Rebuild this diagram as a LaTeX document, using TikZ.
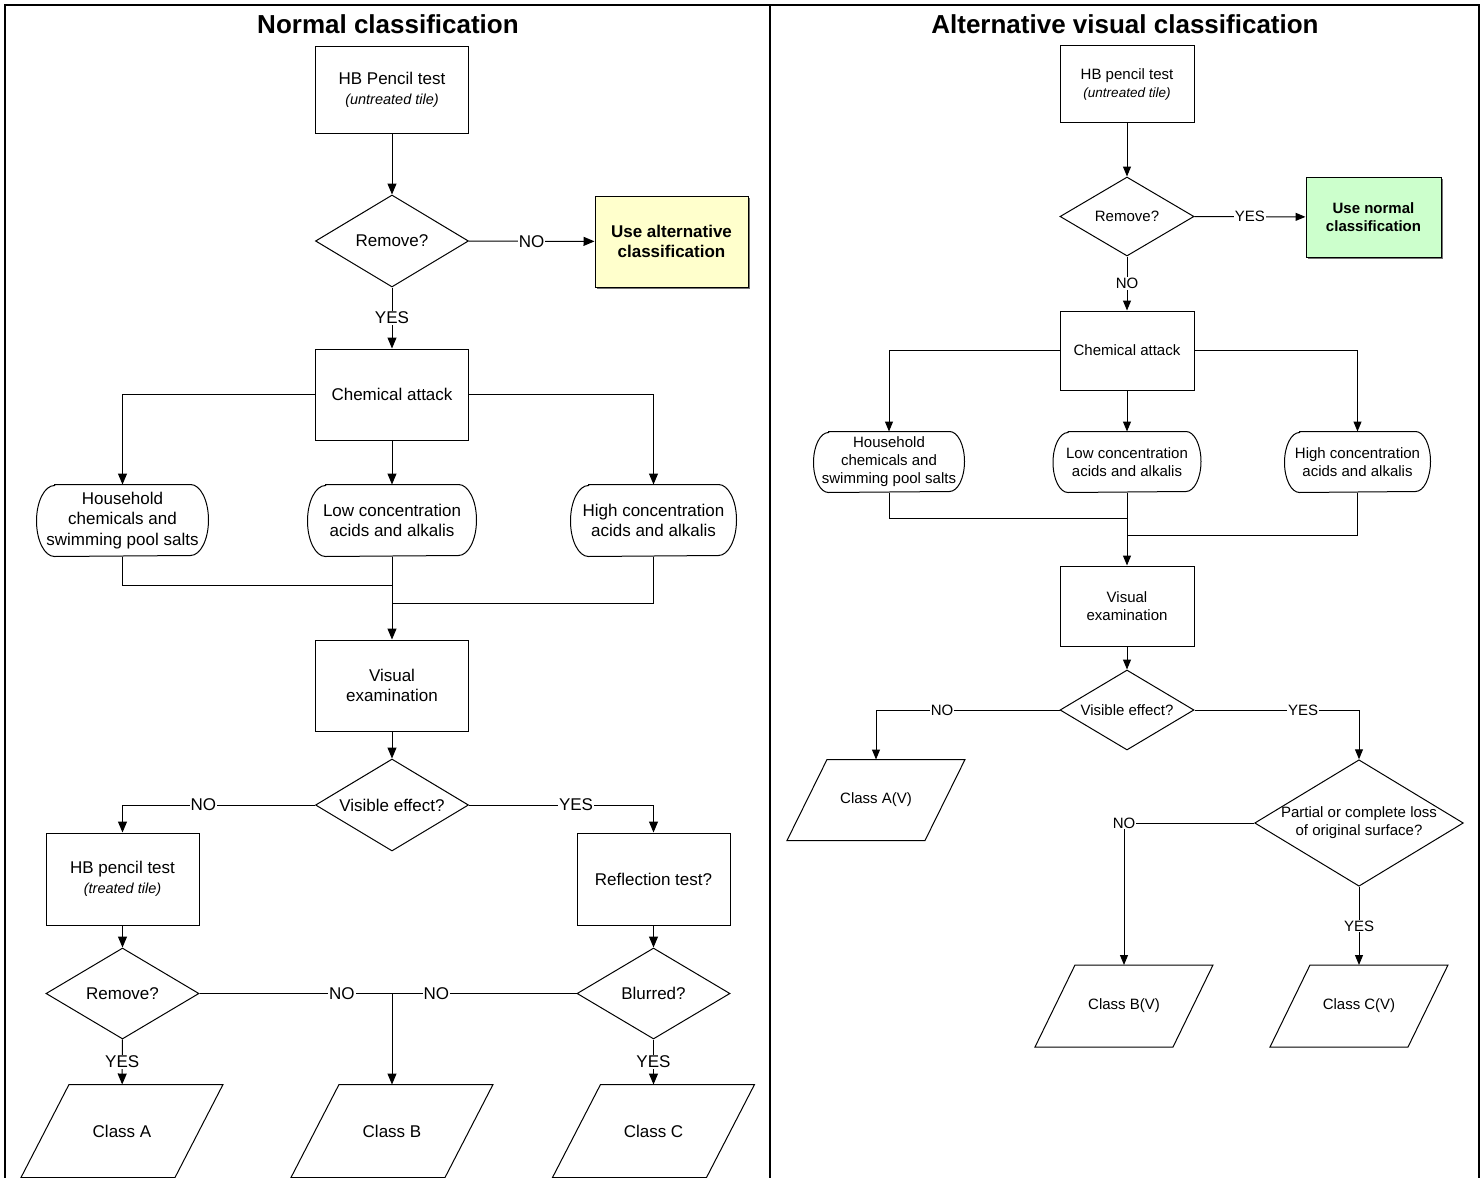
\documentclass[tikz,border=0pt]{standalone}
\usepackage{fontspec}
\setmainfont{Liberation Sans}
\usetikzlibrary{arrows.meta,shapes.geometric,shadows}

\definecolor{altyellow}{HTML}{FFFFCC}
\definecolor{normgreen}{HTML}{CCFFCC}

\newcommand{\titletxt}{\fontsize{26pt}{30pt}\selectfont\bfseries}
\newcommand{\lefttxt}{\fontsize{17pt}{20.5pt}\selectfont}
\newcommand{\righttxt}{\fontsize{15pt}{18pt}\selectfont}

% outline of a result node: top edge pushed right, bottom edge pushed left
\def\slantedge(#1)(#2){\draw ([xshift=#2]#1.north west) -- ([xshift=#2]#1.north east) -- ([xshift=-#2]#1.south east) -- ([xshift=-#2]#1.south west) -- cycle;}
% outline of a terminator node with half-ellipse ends
\def\termedge(#1)(#2)(#3){\draw ([xshift=#2]#1.north west) -- ([xshift=-#2]#1.north east) arc[start angle=90, end angle=-90, x radius=#2, y radius=#3] -- ([xshift=#2]#1.south west) arc[start angle=270, end angle=90, x radius=#2, y radius=#3] -- cycle;}

\tikzset{
	box/.style={draw, rectangle, inner sep=0pt, align=center},
	decide/.style={draw, diamond, inner sep=0pt, align=center},
	term/.style={rectangle, inner sep=0pt, align=center},
	result/.style={rectangle, inner sep=0pt, align=center},
	shade/.style={drop shadow={shadow xshift=1.5pt, shadow yshift=-1.5pt, fill=black!55, opacity=1}},
	arr/.style={-{Triangle[length=11pt,width=9pt]}},
	sarr/.style={-{Triangle[length=10pt,width=8pt]}},
	lbl/.style={fill=white, inner sep=1pt, font=\lefttxt},
	slbl/.style={fill=white, inner sep=1pt, font=\righttxt},
	frame/.style={line width=2.5pt},
}

\begin{document}
\begin{tikzpicture}[x=1pt, y=-1pt, line width=1pt]
			\useasboundingbox (0,0) rectangle (1484,1178);
			
			%%%%% FRAME %%%%%
			\draw[frame] (5,1178) -- (5,5) -- (1479,5) -- (1479,1178);
			\draw[frame] (770,5) -- (770,1178);
			
			%%%%% NORMAL %%%%%
			\node[font=\titletxt] (titleL) at (388,24) {Normal classification};
			
			\begin{scope}[font=\lefttxt]
			\node[box, minimum width=153pt, minimum height=87pt] (hbL) at (392,90) {HB Pencil test\\{\fontsize{14.5pt}{20.5pt}\selectfont\itshape (untreated tile)}};
			\node[decide, aspect=1.66, minimum width=153pt, minimum height=92pt] (remL) at (392,241) {Remove?};
			\node[box, fill=altyellow, shade, minimum width=153pt, minimum height=91pt, font=\lefttxt\bfseries] (altL) at (671.5,241.5) {Use alternative\\classification};
			\node[box, minimum width=153pt, minimum height=91pt] (chemL) at (392,394.5) {Chemical attack};
			
			\node[term, minimum width=171pt, minimum height=71pt] (houseL) at (122.5,520.5) {Household\\chemicals and\\swimming pool salts};
			\node[term, minimum width=168pt, minimum height=71pt] (lowL) at (392,520.5) {Low concentration\\acids and alkalis};
			\node[term, minimum width=165pt, minimum height=71pt] (highL) at (653.5,520.5) {High concentration\\acids and alkalis};
			\termedge(houseL)(18pt)(35.5pt)
			\termedge(lowL)(18pt)(35.5pt)
			\termedge(highL)(18pt)(35.5pt)
			
			\node[box, minimum width=153pt, minimum height=91pt] (visL) at (392,685.5) {Visual\\examination};
			\node[decide, aspect=1.66, minimum width=153pt, minimum height=92pt] (effL) at (392,805) {Visible effect?};
			\node[box, minimum width=153pt, minimum height=92pt] (hbtL) at (122.5,879) {HB pencil test\\{\fontsize{14.5pt}{20.5pt}\selectfont\itshape (treated tile)}};
			\node[box, minimum width=153pt, minimum height=92pt] (reflL) at (653.5,879) {Reflection test?};
			\node[decide, aspect=1.66, minimum width=153pt, minimum height=91pt] (rem2L) at (122.5,993.5) {Remove?};
			\node[decide, aspect=1.66, minimum width=153pt, minimum height=91pt] (blurL) at (653.5,993.5) {Blurred?};
			
			\node[result, minimum width=153pt, minimum height=92pt] (classA) at (122,1131) {Class A};
			\node[result, minimum width=153pt, minimum height=92pt] (classB) at (392,1131) {Class B};
			\node[result, minimum width=153pt, minimum height=92pt] (classC) at (653.5,1131) {Class C};
			\slantedge(classA)(24pt)
			\slantedge(classB)(24pt)
			\slantedge(classC)(24pt)
			\end{scope}
			
			\draw[arr] (hbL) -- (remL);
			\draw[arr] (remL) -- node[lbl]{NO} (altL);
			\draw[arr] (remL) -- node[lbl]{YES} (chemL);
			\draw[arr] (chemL.west) -| (houseL.north);
			\draw[arr] (chemL) -- (lowL);
			\draw[arr] (chemL.east) -| (highL.north);
			
			\coordinate (mergeA) at (392,585);
			\coordinate (mergeB) at (392,603);
			\draw (houseL.south) |- (mergeA);
			\draw (highL.south) |- (mergeB);
			\draw[arr] (lowL) -- (visL);
			\draw[arr] (visL) -- (effL);
			
			\draw[arr] (effL.west) -| node[lbl, pos=0.29]{NO} (hbtL.north);
			\draw[arr] (effL.east) -| node[lbl, pos=0.29]{YES} (reflL.north);
			\draw[arr] (hbtL) -- (rem2L);
			\draw[arr] (reflL) -- (blurL);
			
			\coordinate (mergeC) at (392,993.5);
			\draw (rem2L.east) -- node[lbl, pos=0.74]{NO} (mergeC);
			\draw (blurL.west) -- node[lbl, pos=0.76]{NO} (mergeC);
			\draw[arr] (mergeC) -- (classB);
			\draw[arr] (rem2L) -- node[lbl]{YES} (classA);
			\draw[arr] (blurL) -- node[lbl]{YES} (classC);
			
			%%%%% ALTERNATIVE %%%%%
			\node[font=\titletxt] (titleR) at (1125,24) {Alternative visual classification};
			
			\begin{scope}[font=\righttxt]
			\node[box, minimum width=134pt, minimum height=77pt] (hbR) at (1127,84) {HB pencil test\\{\fontsize{13.5pt}{18pt}\selectfont\itshape (untreated tile)}};
			\node[decide, aspect=1.7, minimum width=134pt, minimum height=79pt] (remR) at (1127,216.5) {Remove?};
			\node[box, fill=normgreen, shade, minimum width=135pt, minimum height=80pt, font=\righttxt\bfseries] (normR) at (1373.5,217) {Use normal\\classification};
			\node[box, minimum width=134pt, minimum height=79pt] (chemR) at (1127,350.5) {Chemical attack};
			
			\node[term, minimum width=150pt, minimum height=60pt] (houseR) at (889,462) {Household\\chemicals and\\swimming pool salts};
			\node[term, minimum width=147pt, minimum height=60pt] (lowR) at (1127,462) {Low concentration\\acids and alkalis};
			\node[term, minimum width=145pt, minimum height=60pt] (highR) at (1357.5,462) {High concentration\\acids and alkalis};
			\termedge(houseR)(15pt)(30pt)
			\termedge(lowR)(15pt)(30pt)
			\termedge(highR)(15pt)(30pt)
			
			\node[box, minimum width=134pt, minimum height=80pt] (visR) at (1127,606) {Visual\\examination};
			\node[decide, aspect=1.7, minimum width=134pt, minimum height=80pt] (effR) at (1127,710) {Visible effect?};
			\node[result, minimum width=137pt, minimum height=80pt] (classAV) at (876,800) {Class A(V)};
			\node[decide, aspect=1.65, minimum width=208pt, minimum height=126pt] (lossR) at (1359,823) {Partial or complete loss\\of original surface?};
			\node[result, minimum width=137pt, minimum height=81pt] (classBV) at (1124,1006) {Class B(V)};
			\node[result, minimum width=137pt, minimum height=81pt] (classCV) at (1359,1006) {Class C(V)};
			\slantedge(classAV)(20pt)
			\slantedge(classBV)(20pt)
			\slantedge(classCV)(20pt)
			\end{scope}
			
			\draw[sarr] (hbR) -- (remR);
			\draw[sarr] (remR) -- node[slbl]{YES} (normR);
			\draw[sarr] (remR) -- node[slbl]{NO} (chemR);
			\draw[sarr] (chemR.west) -| (houseR.north);
			\draw[sarr] (chemR) -- (lowR);
			\draw[sarr] (chemR.east) -| (highR.north);
			
			\coordinate (mergeD) at (1127,518);
			\coordinate (mergeE) at (1127,535);
			\draw (houseR.south) |- (mergeD);
			\draw (highR.south) |- (mergeE);
			\draw[sarr] (lowR) -- (visR);
			\draw[sarr] (visR) -- (effR);
			
			\draw[sarr] (effR.west) -| node[slbl, pos=0.32]{NO} (classAV.north);
			\draw[sarr] (effR.east) -| node[slbl, pos=0.33]{YES} (lossR.north);
			\draw[sarr] (lossR.west) -| node[slbl]{NO} (classBV.north);
			\draw[sarr] (lossR) -- node[slbl]{YES} (classCV);
			
			%%%%% END %%%%%
\end{tikzpicture}
\end{document}
